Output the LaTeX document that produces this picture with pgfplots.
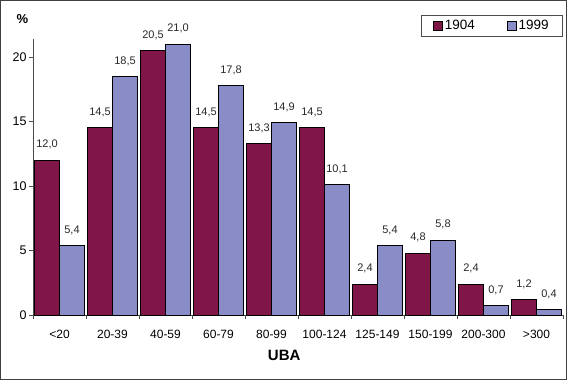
\documentclass[border=0pt]{standalone}
\usepackage{pgfplots}
\pgfplotsset{compat=1.18}
\usepackage{fontspec}
\setmainfont{Liberation Sans}
\definecolor{cA}{RGB}{128,22,72}
\definecolor{cB}{RGB}{138,140,200}
\definecolor{txt}{RGB}{40,40,40}
\begin{document}
\begin{tikzpicture}
\begin{axis}[
  at={(0,0)}, anchor=south west,
  scale only axis,
  width=530pt, height=276pt,
  ybar=0pt, bar width=25pt,
  xmin=-0.5, xmax=9.5,
  ymin=0, ymax=21.4,
  axis x line=bottom, axis y line=left,
  axis line style={-, draw=black!70, line width=0.6pt},
  xtick={0,...,9},
  xticklabels={<20,20-39,40-59,60-79,80-99,100-124,125-149,150-199,200-300,>300},
  major x tick style={draw=none},
  minor xtick={-0.5,0.5,...,9.5},
  minor x tick style={draw=black!70, line width=0.6pt},
  minor tick length=4pt,
  ytick={0,5,10,15,20},
  major y tick style={draw=black!70, line width=0.6pt},
  major tick length=4pt,
  tick align=outside,
  xticklabel style={font=\fontsize{12}{12}\selectfont, text=black, yshift=-8pt},
  yticklabel style={font=\fontsize{12.5}{12.5}\selectfont, text=black, xshift=1pt},
  /pgf/number format/assume math mode=true,
  xlabel={\textbf{UBA}},
  xlabel style={font=\fontsize{15}{15}\selectfont, at={(axis description cs:0.474,-0.148)}, anchor=center},
  ylabel={\textbf{\%}},
  ylabel style={font=\fontsize{13}{13}\selectfont, at={(axis description cs:-0.02,1.072)}, rotate=-90, anchor=center},
  nodes near coords,
  nodes near coords style={font=\fontsize{11}{11}\selectfont, text=txt, yshift=7pt,
    /pgf/number format/.cd, fixed, fixed zerofill, precision=1, use comma, assume math mode=true},
  legend columns=2,
  legend style={at={(1,1.087)}, anchor=north east, draw=black!70, line width=0.8pt,
    font=\fontsize{13.5}{13.5}\selectfont, inner xsep=12pt, inner ysep=3pt,
    /tikz/every even column/.append style={column sep=30pt}},
  legend image code/.code={\draw[#1, line width=0.6pt] (0pt,-4.5pt) rectangle (9pt,4.5pt);},
  legend cell align=left,
]
\addplot[draw=black, line width=1pt, fill=cA] coordinates {
 (0,12.0) (1,14.5) (2,20.5) (3,14.5) (4,13.3) (5,14.5) (6,2.4) (7,4.8) (8,2.4) (9,1.2)};
\addplot[draw=black, line width=1pt, fill=cB] coordinates {
 (0,5.4) (1,18.5) (2,21.0) (3,17.8) (4,14.9) (5,10.1) (6,5.4) (7,5.8) (8,0.7) (9,0.4)};
\legend{1904,1999}
\end{axis}
\draw[black!75, line width=1.2pt] (-32.4pt,-64.4pt) rectangle (533.4pt,314.4pt);
\end{tikzpicture}
\end{document}
